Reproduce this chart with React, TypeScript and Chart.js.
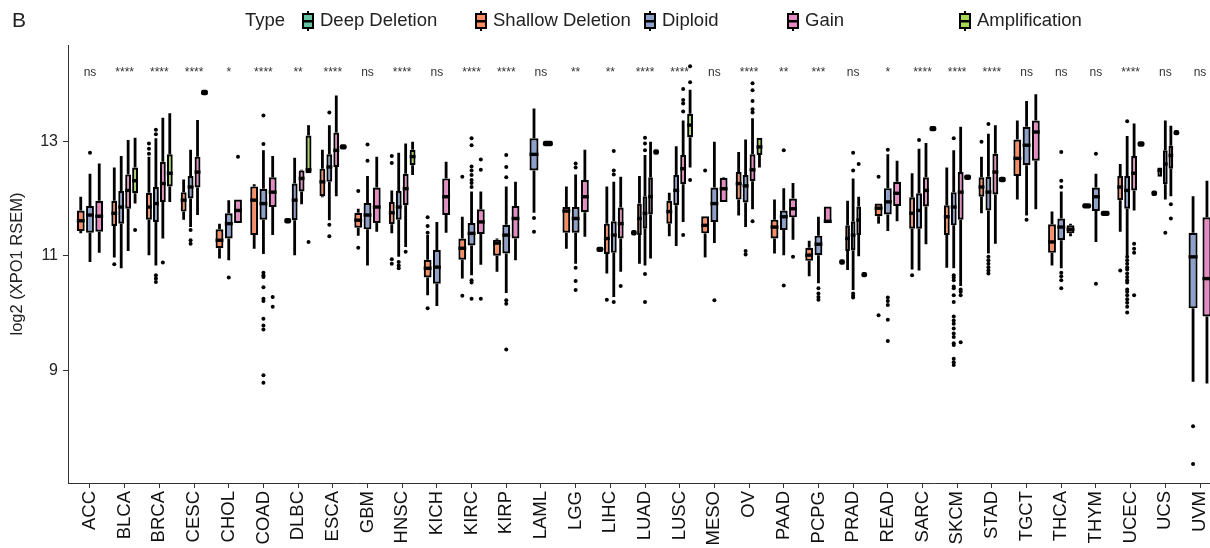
import React, { useEffect, useRef } from 'react';
import { Chart, registerables } from 'chart.js';

Chart.register(...registerables);

type Box = [number, number, number, number, number] | null; // [low whisker, Q1, median, Q3, high whisker]
const one = (v: number): Box => [v, v, v, v, v];

const categories = ['ACC', 'BLCA', 'BRCA', 'CESC', 'CHOL', 'COAD', 'DLBC', 'ESCA', 'GBM', 'HNSC', 'KICH', 'KIRC', 'KIRP', 'LAML', 'LGG', 'LIHC', 'LUAD', 'LUSC', 'MESO', 'OV', 'PAAD', 'PCPG', 'PRAD', 'READ', 'SARC', 'SKCM', 'STAD', 'TGCT', 'THCA', 'THYM', 'UCEC', 'UCS', 'UVM'];

const significance = ['ns', '****', '****', '****', '*', '****', '**', '****', 'ns', '****', 'ns', '****', '****', 'ns', '**', '**', '****', '****', 'ns', '****', '**', '***', 'ns', '*', '****', '****', '****', 'ns', 'ns', 'ns', '****', 'ns', 'ns'];

const typeNames = ['Deep Deletion', 'Shallow Deletion', 'Diploid', 'Gain', 'Amplification'];
const typeColors = ['#66C2A5', '#FC8D62', '#8DA0CB', '#E78AC3', '#A6D854'];

const yTicks = [9, 11, 13];
const yMin = 7.03;
const yMax = 14.68;
const sigLabelY = 14.19;

const deepStats: Box[] = [
  null, null, null, null, null, null, null, null, null, null, null, null, null, null, null,
  one(11.11), one(11.40), null, null, null, null, null, one(10.89), null, null, null, null, null, null, null, null, one(12.09), null,
];
const deepOutliers: number[][] = categories.map(() => []);

const shallowStats: Box[] = [
  [11.39, 11.43, 11.61, 11.79, 12.03],
  [10.97, 11.52, 11.74, 11.96, 12.54],
  [11.01, 11.63, 11.85, 12.10, 12.73],
  [11.63, 11.77, 11.97, 12.11, 12.33],
  [10.95, 11.13, 11.27, 11.46, 11.56],
  [11.12, 11.36, 11.97, 12.21, 12.25],
  one(11.61),
  [12.02, 12.04, 12.29, 12.52, 12.85],
  [11.35, 11.49, 11.62, 11.75, 11.82],
  [11.39, 11.55, 11.75, 11.94, 12.14],
  [10.31, 10.62, 10.78, 10.93, 11.36],
  [10.60, 10.93, 11.13, 11.30, 11.68],
  [10.72, 11.00, 11.22, 11.28, 11.30],
  null,
  [11.12, 11.40, 11.78, 11.85, 12.21],
  [10.69, 11.03, 11.30, 11.56, 12.21],
  [10.86, 11.36, 11.65, 11.91, 12.39],
  [11.34, 11.56, 11.77, 11.96, 12.10],
  [10.97, 11.39, 11.53, 11.69, 11.69],
  [11.70, 11.98, 12.26, 12.46, 12.81],
  [11.04, 11.30, 11.50, 11.63, 11.98],
  [10.64, 10.91, 11.01, 11.14, 11.26],
  [10.75, 11.08, 11.30, 11.53, 11.96],
  [11.56, 11.69, 11.83, 11.91, 11.91],
  [10.76, 11.47, 11.74, 12.02, 12.44],
  [10.79, 11.36, 11.68, 11.88, 12.54],
  [11.74, 12.03, 12.20, 12.37, 12.73],
  [11.98, 12.39, 12.70, 13.03, 13.36],
  [10.83, 11.05, 11.24, 11.55, 11.77],
  one(11.87),
  [11.42, 11.97, 12.20, 12.39, 12.60],
  [12.38, 12.38, 12.49, 12.54, 12.54],
  null,
];
const shallowOutliers: number[][] = [
  [], [10.85], [12.96, 12.87, 12.78], [], [], [], [], [], [12.13, 11.14], [12.74, 12.62, 10.94, 10.86],
  [11.67, 11.52, 11.40, 10.08], [12.38, 10.30], [], [], [], [10.23], [], [], [12.49], [],
  [], [], [], [12.38, 9.96], [10.66], [], [12.99], [], [], [], [10.74], [], [],
];

const diploidStats: Box[] = [
  [10.89, 11.40, 11.71, 11.87, 12.43],
  [10.78, 11.56, 11.85, 12.13, 12.74],
  [10.83, 11.59, 11.91, 12.20, 13.05],
  [11.50, 12.00, 12.20, 12.39, 12.85],
  [10.92, 11.30, 11.56, 11.74, 11.97],
  [11.03, 11.63, 11.91, 12.17, 12.84],
  [11.01, 11.62, 11.97, 12.26, 12.71],
  [11.62, 12.29, 12.55, 12.77, 13.28],
  [10.83, 11.46, 11.71, 11.92, 12.39],
  [10.98, 11.63, 11.85, 12.13, 12.80],
  [10.12, 10.51, 10.80, 11.10, 11.59],
  [10.66, 11.18, 11.39, 11.57, 12.12],
  [10.35, 11.04, 11.36, 11.54, 12.21],
  [11.75, 12.49, 12.77, 13.05, 13.57],
  [10.86, 11.40, 11.65, 11.85, 12.42],
  [10.28, 11.05, 11.36, 11.60, 12.29],
  [10.83, 11.47, 11.74, 12.04, 12.76],
  [11.17, 11.88, 12.14, 12.41, 12.91],
  [11.22, 11.59, 11.91, 12.19, 12.99],
  [11.50, 11.93, 12.22, 12.41, 13.03],
  [11.01, 11.45, 11.68, 11.79, 12.18],
  [10.52, 11.01, 11.20, 11.35, 11.68],
  [10.40, 11.09, 11.36, 11.60, 12.35],
  [11.43, 11.72, 11.94, 12.18, 12.77],
  [10.74, 11.47, 11.79, 12.09, 12.87],
  [10.78, 11.53, 11.85, 12.11, 12.84],
  [11.04, 11.79, 12.11, 12.38, 13.13],
  [11.70, 12.58, 12.93, 13.25, 13.70],
  [10.78, 11.27, 11.50, 11.65, 12.12],
  [11.24, 11.78, 12.03, 12.19, 12.43],
  [11.01, 11.82, 12.14, 12.39, 13.09],
  [11.98, 12.25, 12.60, 12.84, 13.36],
  [8.80, 10.08, 10.98, 11.40, 12.04],
];
const diploidOutliers: number[][] = [
  [12.80],
  [],
  [13.20, 13.12, 10.66, 10.60, 10.54],
  [11.45, 11.27, 11.21],
  [10.62],
  [13.45, 12.95, 10.70, 10.66, 10.63, 10.45, 10.25, 10.21, 9.90, 9.78, 9.71, 8.91, 8.78],
  [],
  [13.50, 11.54, 11.34],
  [12.94, 12.66],
  [10.89, 10.83, 10.78],
  [],
  [13.05, 12.93, 12.56, 12.49, 12.41, 12.32, 12.27, 12.20, 10.57, 10.53, 10.25],
  [12.76, 12.55, 12.37, 10.22, 10.16, 9.36],
  [11.66, 11.42],
  [12.61, 12.54, 10.79, 10.56, 10.40],
  [12.83, 12.49, 12.42, 10.19],
  [13.06, 12.96, 12.84, 10.68, 10.19],
  [],
  [10.22],
  [11.08, 11.02],
  [12.84, 10.48],
  [10.43, 10.34, 10.28, 10.23],
  [12.80, 12.49, 10.34, 10.30, 10.27],
  [12.85, 10.27, 10.21, 10.14, 9.88, 9.51],
  [13.02],
  [13.05, 10.66, 10.62, 10.57, 10.46, 10.43, 10.31, 10.19, 9.94, 9.87, 9.81, 9.73, 9.64, 9.58, 9.47, 9.44, 9.20, 9.14, 9.09],
  [13.30, 10.98, 10.92, 10.86, 10.80, 10.74, 10.69],
  [11.63],
  [12.81, 12.31, 12.20, 10.70, 10.64, 10.57, 10.43],
  [12.78, 10.51],
  [13.35, 10.98, 10.92, 10.86, 10.80, 10.76, 10.69, 10.63, 10.57, 10.53, 10.41, 10.37, 10.31, 10.24, 10.18, 10.11, 10.01],
  [11.40],
  [8.02, 7.36],
];

const gainStats: Box[] = [
  [11.05, 11.42, 11.69, 11.96, 12.61],
  [11.08, 11.82, 12.14, 12.42, 13.02],
  [11.30, 11.94, 12.26, 12.64, 13.41],
  [11.71, 12.19, 12.46, 12.73, 13.37],
  [11.57, 11.57, 11.79, 11.98, 11.98],
  [11.36, 11.85, 12.11, 12.37, 12.74],
  [11.90, 12.12, 12.35, 12.49, 12.50],
  [12.04, 12.55, 12.84, 13.15, 13.80],
  [11.42, 11.57, 11.85, 12.19, 12.73],
  [11.15, 11.88, 12.17, 12.43, 12.96],
  [11.40, 11.71, 12.03, 12.35, 12.64],
  [10.84, 11.38, 11.59, 11.81, 12.12],
  [10.92, 11.30, 11.65, 11.87, 12.29],
  [12.93, 12.93, 12.96, 12.98, 12.98],
  [11.33, 11.76, 12.03, 12.32, 12.85],
  [10.72, 11.30, 11.56, 11.84, 12.38],
  [10.95, 11.72, 12.03, 12.37, 12.99],
  [11.59, 12.25, 12.52, 12.76, 13.36],
  [11.94, 11.94, 12.17, 12.36, 12.37],
  [11.81, 12.30, 12.50, 12.77, 13.40],
  [11.28, 11.67, 11.82, 12.00, 12.27],
  [11.57, 11.57, 11.60, 11.86, 11.86],
  [10.99, 11.36, 11.62, 11.86, 12.03],
  [11.60, 11.87, 12.09, 12.29, 12.66],
  [11.20, 11.86, 12.14, 12.37, 12.97],
  [10.47, 11.63, 12.11, 12.46, 13.25],
  [11.21, 12.07, 12.46, 12.78, 13.28],
  [11.81, 12.66, 13.16, 13.36, 13.82],
  [11.34, 11.39, 11.46, 11.53, 11.56],
  one(11.74),
  [11.79, 12.14, 12.44, 12.74, 13.31],
  [12.04, 12.52, 12.75, 12.92, 13.27],
  [8.77, 9.94, 10.60, 11.67, 12.31],
];
const gainOutliers: number[][] = [
  [], [], [10.88], [], [12.73], [10.28, 10.11], [], [], [], [11.07],
  [], [12.68, 12.50, 10.25], [], [], [], [10.47], [], [13.91, 13.72, 13.66, 13.52, 11.36], [], [14.01, 13.89, 13.70, 13.56, 13.50, 11.60],
  [10.98], [], [12.60], [], [], [10.41, 10.37, 10.31, 9.49], [], [], [], [], [11.21, 11.12, 11.05, 10.31], [11.90, 11.65], [],
];

const ampStats: Box[] = [
  null,
  [11.91, 12.09, 12.31, 12.54, 13.06],
  [11.94, 12.21, 12.44, 12.77, 13.49],
  one(13.85),
  null,
  null,
  [12.44, 12.44, 12.50, 13.10, 13.28],
  one(12.90),
  null,
  [12.41, 12.58, 12.73, 12.85, 12.99],
  null, null, null, null, null, null,
  one(12.81),
  [12.54, 13.07, 13.28, 13.48, 13.90],
  null,
  [12.54, 12.76, 12.90, 13.06, 13.06],
  null, null,
  one(10.67),
  null,
  one(13.22),
  one(12.37),
  one(12.33),
  null, null, null,
  one(12.95),
  one(13.15),
  null,
];
const ampOutliers: number[][] = [
  [], [11.45], [], [], [], [], [11.24], [], [], [],
  [], [], [], [], [], [], [], [14.31, 14.03, 12.32], [], [],
  [], [], [], [], [], [], [], [], [], [], [], [], [],
];

const allStats: Box[][] = [deepStats, shallowStats, diploidStats, gainStats, ampStats];
const allOutliers: number[][][] = [deepOutliers, shallowOutliers, diploidOutliers, gainOutliers, ampOutliers];

const FONT = '"Liberation Sans", Arial, Helvetica, sans-serif';
const legendKeyX = [308, 481, 650, 793, 965];

const boxPlugin = {
  id: 'boxplotParts',
  beforeDatasetsDraw(chart: any) {
    const ctx = chart.ctx;
    const ys = chart.scales.y;
    ctx.save();
    ctx.strokeStyle = '#000';
    ctx.lineWidth = 2.8;
    allStats.forEach((stats, d) => {
      const meta = chart.getDatasetMeta(d);
      stats.forEach((s, i) => {
        if (!s) return;
        const el = meta.data[i];
        if (!el) return;
        const x = el.x;
        ctx.beginPath();
        ctx.moveTo(x, ys.getPixelForValue(s[4]));
        ctx.lineTo(x, ys.getPixelForValue(s[3]));
        ctx.moveTo(x, ys.getPixelForValue(s[1]));
        ctx.lineTo(x, ys.getPixelForValue(s[0]));
        ctx.stroke();
      });
    });
    ctx.restore();
  },
  afterDatasetsDraw(chart: any) {
    const ctx = chart.ctx;
    const ys = chart.scales.y;
    ctx.save();
    ctx.fillStyle = '#000';
    allStats.forEach((stats, d) => {
      const meta = chart.getDatasetMeta(d);
      stats.forEach((s, i) => {
        if (!s) return;
        const el = meta.data[i];
        if (!el) return;
        const x = el.x;
        const w = el.width;
        const ym = ys.getPixelForValue(s[2]);
        const boxH = Math.abs(ys.getPixelForValue(s[1]) - ys.getPixelForValue(s[3]));
        if (boxH < 3) {
          ctx.beginPath();
          ctx.roundRect(x - w / 2 - 0.5, ym - 2.7, w + 1, 5.4, 2);
          ctx.fill();
        } else {
          ctx.fillRect(x - w / 2, ym - 1.7, w, 3.4);
        }
        allOutliers[d][i].forEach((v) => {
          ctx.beginPath();
          ctx.arc(x, ys.getPixelForValue(v), 2, 0, Math.PI * 2);
          ctx.fill();
        });
      });
    });
    ctx.restore();
  },
  afterDraw(chart: any) {
    const ctx = chart.ctx;
    const xs = chart.scales.x;
    const ys = chart.scales.y;
    ctx.save();
    ctx.fillStyle = '#333';
    ctx.font = `12px ${FONT}`;
    ctx.textAlign = 'center';
    ctx.textBaseline = 'middle';
    significance.forEach((t, i) => {
      ctx.fillText(t, xs.getPixelForValue(i), ys.getPixelForValue(sigLabelY));
    });
    ctx.fillStyle = '#222';
    ctx.textAlign = 'left';
    ctx.font = `21px ${FONT}`;
    ctx.fillText('B', 12, 21);
    ctx.font = `18.5px ${FONT}`;
    ctx.fillText('Type', 245, 21);
    typeNames.forEach((name, k) => {
      const cx = legendKeyX[k];
      ctx.strokeStyle = '#000';
      ctx.lineWidth = 2;
      ctx.beginPath();
      ctx.moveTo(cx, 11);
      ctx.lineTo(cx, 31);
      ctx.stroke();
      ctx.fillStyle = typeColors[k];
      ctx.fillRect(cx - 5, 14, 10, 14);
      ctx.lineWidth = 2;
      ctx.strokeRect(cx - 5, 14, 10, 14);
      ctx.fillStyle = '#000';
      ctx.fillRect(cx - 5, 20, 10, 2.5);
      ctx.fillStyle = '#222';
      ctx.fillText(name, cx + 12, 21);
    });
    ctx.restore();
  },
};

export default function App() {
  const ref = useRef<HTMLCanvasElement>(null);
  useEffect(() => {
    const canvas = ref.current;
    if (!canvas) return;
    Chart.defaults.font.family = FONT;
    const datasets = typeNames.map((name, d) => ({
      label: name,
      data: categories.map((_, i) => {
        const s = allStats[d][i];
        return { x: i, y: s ? [s[1], s[3]] : null };
      }),
      backgroundColor: typeColors[d],
      borderColor: '#000',
      borderWidth: 2.2,
      borderSkipped: false,
      categoryPercentage: 0.8,
      barPercentage: 0.85,
      maxBarThickness: 9,
      skipNull: true,
    }));
    const chart = new Chart(canvas, {
      type: 'bar',
      data: { datasets: datasets as any },
      plugins: [boxPlugin],
      options: {
        animation: false,
        responsive: true,
        maintainAspectRatio: false,
        layout: { padding: { top: 45, right: 0, bottom: 0, left: 0 } },
        plugins: { legend: { display: false }, tooltip: { enabled: false } },
        scales: {
          x: {
            type: 'linear',
            min: -0.634,
            max: 32.634,
            offset: false,
            afterBuildTicks: (s: any) => { s.ticks = categories.map((_, i) => ({ value: i })); },
            afterFit: (s: any) => { s.height = 65; s.paddingLeft = 0; s.paddingRight = 0; },
            ticks: {
              autoSkip: false,
              minRotation: 90,
              maxRotation: 90,
              padding: 3,
              color: '#111',
              font: { size: 18.5, family: FONT },
              callback: (v: any) => categories[Math.round(Number(v))] ?? '',
            },
            grid: { offset: false, drawOnChartArea: false, drawTicks: true, tickLength: 5, color: '#333', lineWidth: 1 },
            border: { display: true, color: '#333', width: 1 },
          },
          y: {
            type: 'linear',
            min: yMin,
            max: yMax,
            beginAtZero: false,
            afterBuildTicks: (s: any) => { s.ticks = yTicks.map((v) => ({ value: v })); },
            afterFit: (s: any) => { s.width = 68; s.paddingTop = 0; s.paddingBottom = 0; },
            ticks: { color: '#222', padding: 5, font: { size: 16, family: FONT } },
            grid: { drawOnChartArea: false, drawTicks: true, tickLength: 5, color: '#333', lineWidth: 1 },
            border: { display: true, color: '#333', width: 1 },
            title: { display: true, text: 'log2 (XPO1 RSEM)', color: '#222', font: { size: 16.5, family: FONT }, padding: { top: 8, bottom: 0 } },
          },
        },
      } as any,
    });
    return () => chart.destroy();
  }, []);
  return (
    <div style={{ position: 'fixed', left: 0, top: 0, width: '100vw', height: '100vh', overflow: 'hidden', background: '#fff' }}>
      <div style={{ position: 'relative', width: 1222, height: 548 }}>
        <canvas ref={ref} />
      </div>
    </div>
  );
}
